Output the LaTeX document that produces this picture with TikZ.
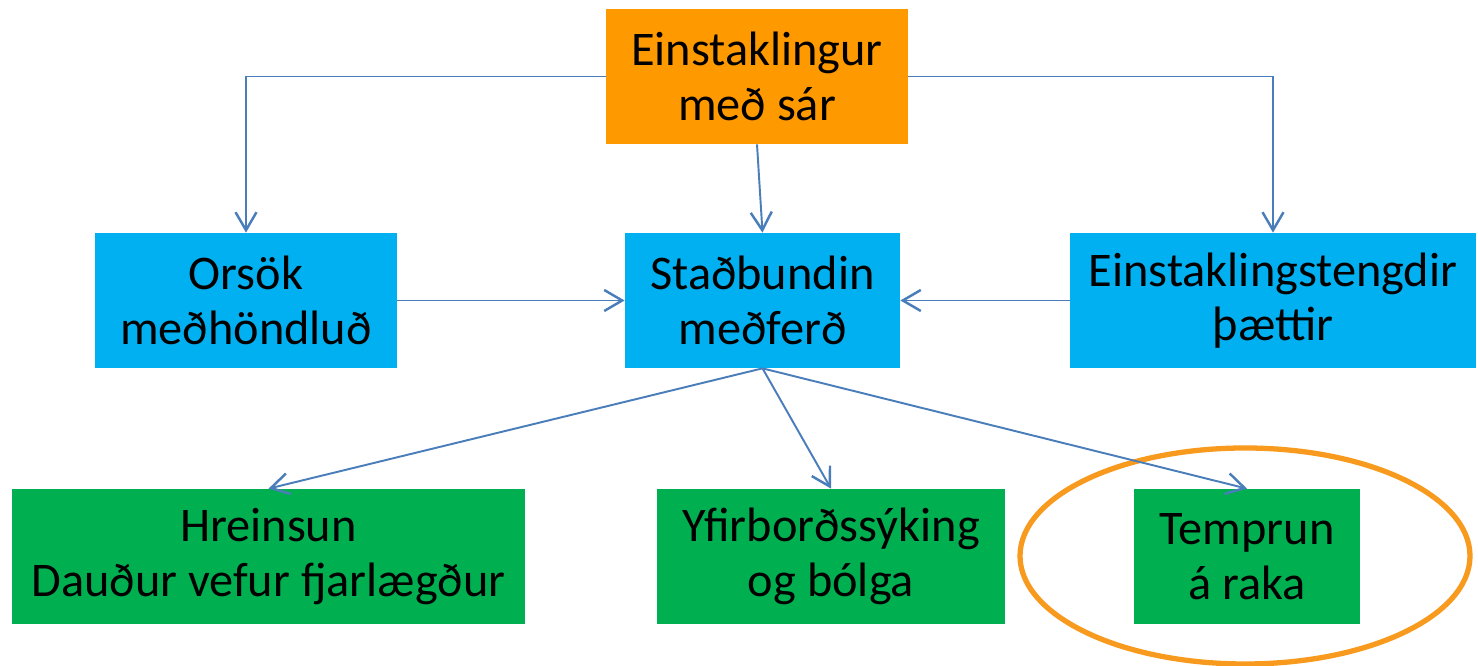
\documentclass[tikz,border=0pt]{standalone}
\usepackage{fontspec}
\setmainfont{Carlito}
\usetikzlibrary{positioning,arrows.meta,shapes.geometric}
\definecolor{boxorange}{HTML}{FF9900}
\definecolor{boxblue}{HTML}{00B0F0}
\definecolor{boxgreen}{HTML}{00B050}
\definecolor{linkblue}{HTML}{4A7EBB}
\definecolor{ringorange}{HTML}{F79A1E}
\tikzstyle{box} = [
rectangle,
minimum height=2.7cm,
text centered,
align=center,
inner sep=0pt,
font=\fontsize{27.5}{31}\selectfont
]
\tikzstyle{arrow} = [
line width=1.1pt,
draw=linkblue,
-{Straight Barb[length=3.6mm,width=4.2mm,line width=1.4pt]}
]

\begin{document}
\begin{tikzpicture}
					\useasboundingbox (0,0) rectangle (29.56,13.32);
					%Nodes
					\node[box,fill=boxorange,minimum width=6.04cm] (person) at (15.14,11.79) {Einstaklingur\\með sár};
					\node[box,fill=boxblue,minimum width=6.04cm] (cause) at (4.92,7.31) {Orsök\\meðhöndluð};
					\node[box,fill=boxblue,minimum width=5.5cm] (local) at (15.25,7.31) {Staðbundin\\meðferð};
					\node[box,fill=boxblue,minimum width=8.12cm] (factors) at (25.46,7.31) {Einstaklingstengdir\\þættir};
					\node[box,fill=boxgreen,minimum width=10.26cm] (clean) at (5.37,2.19) {Hreinsun\\Dauður vefur fjarlægður};
					\node[box,fill=boxgreen,minimum width=6.96cm] (infect) at (16.62,2.19) {Yfirborðssýking\\og bólga};
					\node[box,fill=boxgreen,minimum width=4.52cm] (moist) at (24.94,2.19) {Temprun\\á raka};
					\node[ellipse,draw=ringorange,line width=3pt,minimum width=9cm,minimum height=4.32cm] (ring) at (24.9,2.2) {};
					%Arrows
					\draw[arrow] (person.west) -| (cause.north);
					\draw[arrow] (person.east) -| (factors.north);
					\draw[arrow] (person.south) -- (local.north);
					\draw[arrow] (cause.east) -- (local.west);
					\draw[arrow] (factors.west) -- (local.east);
					\draw[arrow] (local.south) -- (clean.north);
					\draw[arrow] (local.south) -- (infect.north);
					\draw[arrow] (local.south) -- (moist.north);
				\end{tikzpicture}
\end{document}
